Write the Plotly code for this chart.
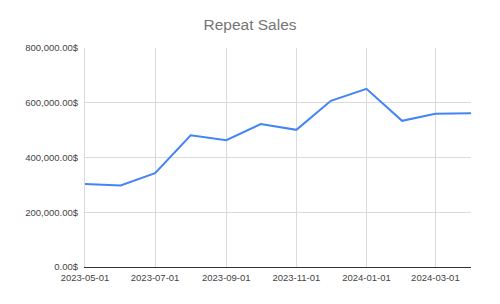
import plotly.graph_objects as go

months = ["2023-05-01", "2023-06-01", "2023-07-01", "2023-08-01", "2023-09-01", "2023-10-01",
          "2023-11-01", "2023-12-01", "2024-01-01", "2024-02-01", "2024-03-01", "2024-04-01"]
repeat_sales = [303000, 298000, 343000, 481000, 463000, 522000,
                501000, 607000, 651000, 534000, 560000, 562000]
y_ticks = [0, 200000, 400000, 600000, 800000]
y_labels = [f"{v:,.2f}$" for v in y_ticks]
x_ticks = ["2023-05-01", "2023-07-01", "2023-09-01", "2023-11-01", "2024-01-01", "2024-03-01"]

fig = go.Figure(go.Scatter(x=months, y=repeat_sales, mode="lines",
                           line=dict(color="#4285F4", width=2), hoverinfo="skip"))

fig.update_layout(
    width=500, height=304,
    margin=dict(l=85, r=29, t=48, b=37),
    paper_bgcolor="white", plot_bgcolor="white",
    font=dict(family="Liberation Sans, Arial, sans-serif", size=9.5, color="#444444"),
    title=dict(text="Repeat Sales", x=0.5, xanchor="center", y=0.918, yanchor="middle",
               font=dict(size=15.5, color="#757575")),
    showlegend=False,
)
fig.update_xaxes(type="date", range=["2023-05-01", "2024-04-01"],
                 tickvals=x_ticks, ticktext=x_ticks,
                 showgrid=True, gridcolor="#dadada", gridwidth=1,
                 showline=True, linecolor="#333333", linewidth=1,
                 zeroline=False, ticks="", ticklabelstandoff=2)
fig.update_yaxes(range=[0, 800000], tickvals=y_ticks, ticktext=y_labels,
                 showgrid=True, gridcolor="#dadada", gridwidth=1,
                 showline=True, linecolor="#dadada", linewidth=1,
                 zeroline=False, ticks="", ticklabelstandoff=4)

fig.write_html("out.html")
